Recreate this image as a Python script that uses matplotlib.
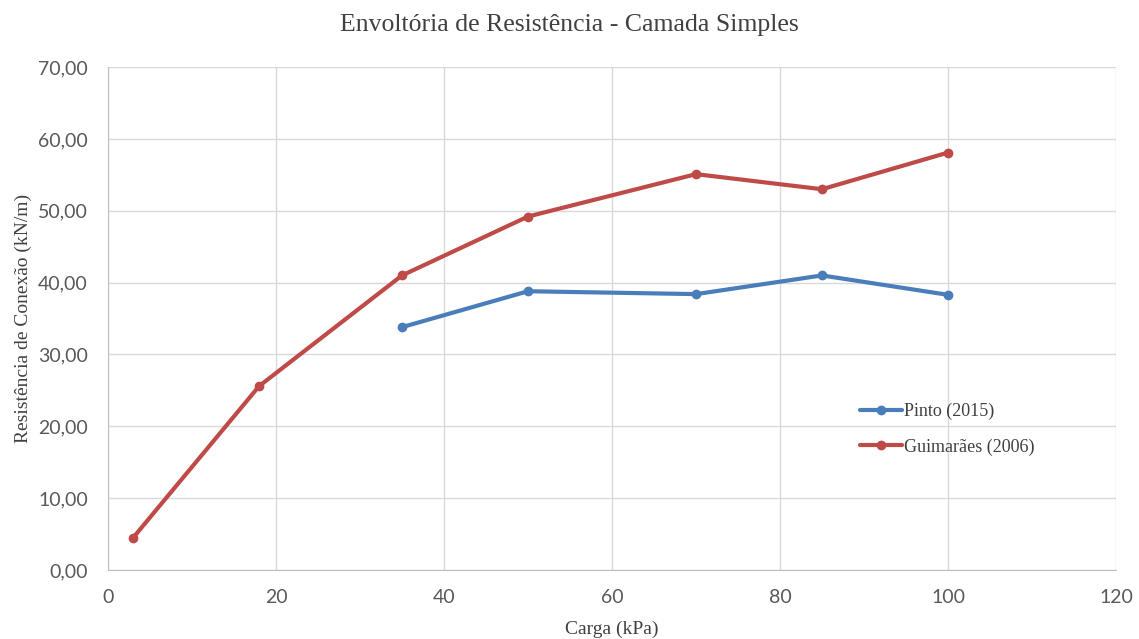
import matplotlib.pyplot as plt
import numpy as np

# dados
carga_pinto = [35, 50, 70, 85, 100]
res_pinto = [33.8, 38.8, 38.4, 41.0, 38.3]
carga_guim = [3, 18, 35, 50, 70, 85, 100]
res_guim = [4.5, 25.6, 41.0, 49.2, 55.1, 53.0, 58.1]

serif = 'Liberation Serif'
sans = 'Lato'

fig = plt.figure(figsize=(11.39, 6.39), dpi=100)
ax = fig.add_axes([0.0948, 0.108, 0.885, 0.787])

ax.plot(carga_pinto, res_pinto, color='#4a7ebb', lw=3, marker='o', ms=6,
        label='Pinto (2015)', solid_capstyle='round')
ax.plot(carga_guim, res_guim, color='#be4b48', lw=3, marker='o', ms=6,
        label='Guimarães (2006)', solid_capstyle='round')

ax.set_xlim(0, 120)
ax.set_ylim(0, 70)
ax.set_xticks(np.arange(0, 121, 20))
ax.set_yticks(np.arange(0, 71, 10))
ax.set_yticklabels([('%.2f' % v).replace('.', ',') for v in np.arange(0, 71, 10)])
ax.grid(True, color='#d9d9d9', lw=1)
ax.set_axisbelow(True)
for s in ['top', 'right']:
    ax.spines[s].set_visible(False)
for s in ['left', 'bottom']:
    ax.spines[s].set_color('#bfbfbf')
ax.tick_params(length=0, labelsize=14, labelcolor='#595959')
ax.tick_params(axis='y', pad=14.5)
ax.tick_params(axis='x', pad=14)
for t in ax.get_xticklabels() + ax.get_yticklabels():
    t.set_family(sans)

fig.text(0.5, 0.961, 'Envoltória de Resistência - Camada Simples', family=serif,
         fontsize=18.5, color='#404040', ha='center', va='center')
ax.set_xlabel('Carga (kPa)', family=serif, fontsize=14, color='#404040', labelpad=10)
ax.set_ylabel('Resistência de Conexão (kN/m)', family=serif, fontsize=14,
              color='#404040', labelpad=4)

leg = ax.legend(loc='upper left', bbox_to_anchor=(0.741, 0.395), bbox_transform=fig.transFigure,
                frameon=False, prop={'family': serif, 'size': 13}, handlelength=2.3,
                labelspacing=1.0, handletextpad=0.1)
for t in leg.get_texts():
    t.set_color('#404040')

fig.savefig('out.png', dpi=100)
